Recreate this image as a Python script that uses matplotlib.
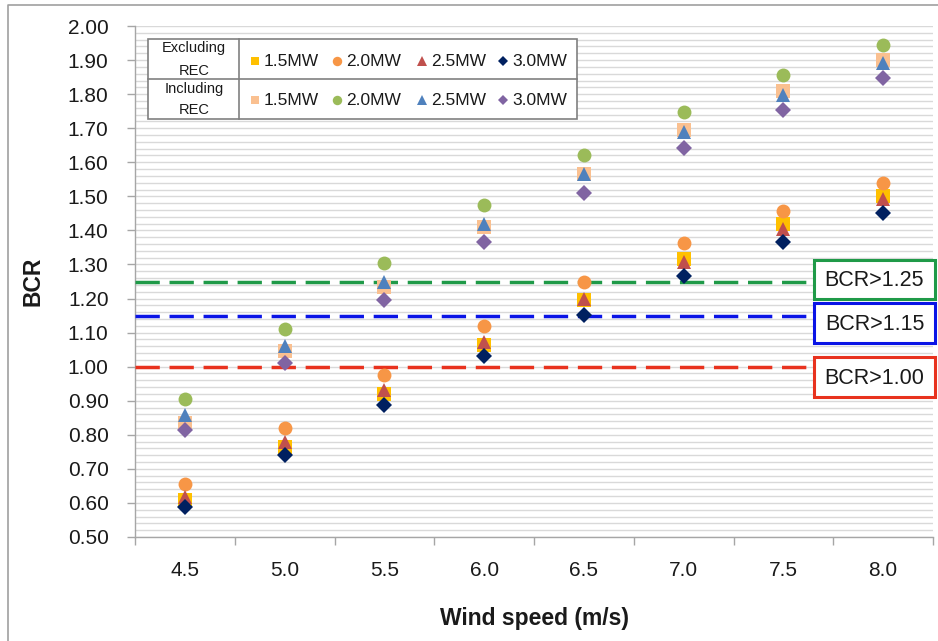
import numpy as np
import matplotlib
matplotlib.use("Agg")
import matplotlib.pyplot as plt
from matplotlib.patches import Rectangle
from matplotlib.ticker import MultipleLocator

plt.rcParams['font.family'] = ['Liberation Sans', 'DejaVu Sans']

# data
wind_speed = ["4.5", "5.0", "5.5", "6.0", "6.5", "7.0", "7.5", "8.0"]
excl_15 = [0.610, 0.765, 0.920, 1.065, 1.195, 1.315, 1.420, 1.500]
excl_20 = [0.655, 0.820, 0.975, 1.120, 1.250, 1.362, 1.458, 1.540]
excl_25 = [0.617, 0.778, 0.932, 1.071, 1.200, 1.306, 1.405, 1.493]
excl_30 = [0.588, 0.740, 0.888, 1.030, 1.152, 1.265, 1.365, 1.452]
incl_15 = [0.835, 1.045, 1.235, 1.410, 1.565, 1.695, 1.810, 1.900]
incl_20 = [0.905, 1.112, 1.305, 1.475, 1.620, 1.748, 1.856, 1.945]
incl_25 = [0.857, 1.062, 1.250, 1.420, 1.565, 1.690, 1.798, 1.890]
incl_30 = [0.813, 1.012, 1.195, 1.365, 1.511, 1.643, 1.752, 1.848]
thresholds = [1.25, 1.15, 1.00]
threshold_labels = ["BCR>1.25", "BCR>1.15", "BCR>1.00"]
capacities = ["1.5MW", "2.0MW", "2.5MW", "3.0MW"]

thr_colors = ["#1f9a48", "#0a14e6", "#e8321e"]
excl_style = [("s", "#ffc000", 9.6), ("o", "#f79646", 10.0), ("^", "#c0504d", 10.0), ("D", "#002060", 8.2)]
incl_style = [("s", "#fac090", 9.6), ("o", "#9bbb59", 10.0), ("^", "#4f81bd", 10.0), ("D", "#8064a2", 8.2)]
legend_ms = [6.2, 6.8, 7.2, 5.6]

W, H = 938, 641
fig = plt.figure(figsize=(W / 100, H / 100), dpi=100)
ax = fig.add_axes([135 / W, 1 - 537 / H, 798 / W, 511 / H])

x = np.arange(len(wind_speed))
for series, (m, c, ms) in zip([excl_15, excl_20, excl_25, excl_30], excl_style):
    ax.plot(x, series, linestyle="none", marker=m, color=c, ms=ms, mew=0, zorder=4)
for series, (m, c, ms) in zip([incl_15, incl_20, incl_25, incl_30], incl_style):
    ax.plot(x, series, linestyle="none", marker=m, color=c, ms=ms, mew=0, zorder=4)

line_end = (812 - 135) / 798
for val, col in zip(thresholds, thr_colors):
    ax.axhline(val, xmin=0, xmax=line_end, color=col, lw=2.5, dashes=(7.0, 2.8), zorder=3)

ax.set_xlim(-0.5, len(wind_speed) - 0.5)
ax.set_ylim(0.5, 2.0)
ax.yaxis.set_major_locator(MultipleLocator(0.1))
ax.yaxis.set_minor_locator(MultipleLocator(0.02))
ax.set_yticklabels([f"{v:.2f}" for v in ax.get_yticks()])
ax.set_ylim(0.5, 2.0)
ax.grid(axis="y", which="both", color="#d9d9d9", lw=1.0, zorder=0)
ax.set_axisbelow(True)

ax.set_xticks(np.arange(-0.5, len(wind_speed), 1))
ax.set_xticklabels([])
ax.set_xticks(x, minor=True)
ax.set_xticklabels(wind_speed, minor=True)
ax.tick_params(axis="x", which="major", length=6, width=1, color="#a6a6a6", direction="out")
ax.tick_params(axis="x", which="minor", length=0, pad=17, labelsize=15, labelcolor="#1a1a1a")
ax.tick_params(axis="y", which="major", length=6, width=1, color="#a6a6a6", pad=13,
               labelsize=15, labelcolor="#1a1a1a")
ax.tick_params(axis="y", which="minor", length=0)

for s in ["top", "right"]:
    ax.spines[s].set_visible(False)
for s in ["left", "bottom"]:
    ax.spines[s].set_color("#a6a6a6")
    ax.spines[s].set_linewidth(1)

ax.set_ylabel("BCR", fontsize=16.5, fontweight="bold", color="#1a1a1a")
ax.yaxis.set_label_coords(-0.113, 0.5)
ax.set_xlabel("Wind speed (m/s)", fontsize=16.5, fontweight="bold", color="#1a1a1a")
ax.xaxis.set_label_coords(0.5, -0.137)

# overlay in pixel coords for border, threshold boxes and legend table
ov = fig.add_axes([0, 0, 1, 1], facecolor="none")
ov.set_xlim(0, W)
ov.set_ylim(H, 0)
ov.axis("off")

ov.plot([8, 8, W], [H, 5, 5], color="#a0a0a0", lw=1.2)

box_y = [(260, 299), (303, 343), (357, 397)]
for (y0, y1), lab, col in zip(box_y, threshold_labels, thr_colors):
    ov.add_patch(Rectangle((814, y0), 121, y1 - y0, facecolor="white", edgecolor=col, lw=2.2, zorder=5))
    ov.text(874.5, (y0 + y1) / 2 + 1, lab, ha="center", va="center", fontsize=15.5, color="#1a1a1a", zorder=6)

# legend table
lx0, lx1, ly0, ly1 = 148, 577, 39, 119
ov.add_patch(Rectangle((lx0, ly0), lx1 - lx0, ly1 - ly0, facecolor="white", edgecolor="#808080", lw=1.2, zorder=5))
ov.plot([239, 239], [ly0, ly1], color="#808080", lw=1.2, zorder=6)
ov.plot([lx0, lx1], [79, 79], color="#808080", lw=1.2, zorder=6)
for (top, bot), word, row_y, styles in [((48, 71), "Excluding", 61, excl_style),
                                         ((89, 110), "Including", 100, incl_style)]:
    ov.text(194, top, word, ha="center", va="center", fontsize=10.5, color="#1a1a1a", zorder=6)
    ov.text(194, bot, "REC", ha="center", va="center", fontsize=10.5, color="#1a1a1a", zorder=6)
    for (m, c, _), lms, lab, mx in zip(styles, legend_ms, capacities, [255, 337, 422, 503]):
        ov.plot([mx], [row_y], linestyle="none", marker=m, color=c, ms=lms, mew=0, zorder=6)
        ov.text(mx + 9, row_y + 0.5, lab, ha="left", va="center", fontsize=12.5, color="#1a1a1a", zorder=6)

fig.savefig("out.png", dpi=100)
